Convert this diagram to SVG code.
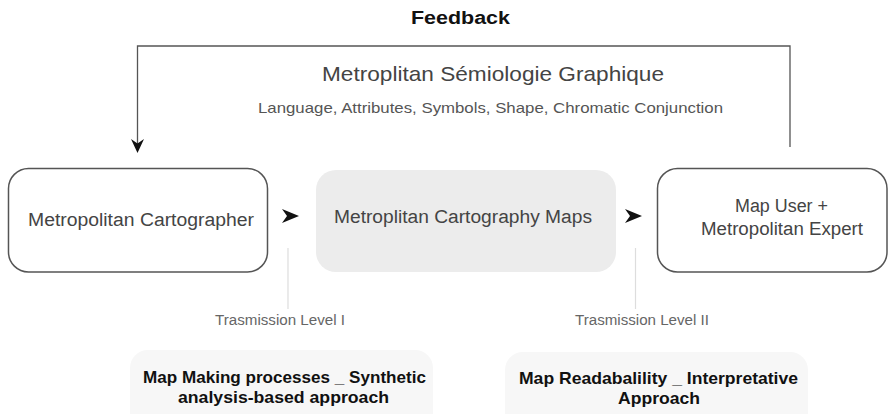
<svg xmlns="http://www.w3.org/2000/svg" width="889" height="414" viewBox="0 0 889 414">
<defs>
<style>
text{font-family:"Liberation Sans","DejaVu Sans",sans-serif;text-anchor:middle}
.box{fill:#fff;stroke:#555;stroke-width:1.5}
.mid{fill:#ececec;stroke:none}
.soft{fill:#f7f7f7;stroke:none}
.lbl{font-size:18px;fill:#444}
.tl{font-size:14px;fill:#666}
.bold{font-size:17px;font-weight:bold;fill:#111}
.fb{fill:none;stroke:#555;stroke-width:1.3}
.tick{stroke:#ddd;stroke-width:1.2}
.chev{fill:#111}
</style>
</defs>
<g id="connectors">
<polyline class="fb" points="790,147 790,46 137.5,46 137.5,148"/>
<path class="chev" d="M131,139 L137.5,153 L144,139 L137.5,143.5 Z"/>
<path class="chev" d="M282,209 L299,216 L282,223 L287,216 Z"/>
<path class="chev" d="M625,209 L642,216 L625,223 L630,216 Z"/>
<line class="tick" x1="288" y1="248" x2="288" y2="309"/>
<line class="tick" x1="635.5" y1="248" x2="635.5" y2="309"/>
</g>
<g id="feedback">
<text x="460.5" y="24" textLength="99" lengthAdjust="spacingAndGlyphs" style="font-size:18px;font-weight:bold;fill:#111">Feedback</text>
</g>
<g id="header">
<text x="493" y="81" textLength="342" lengthAdjust="spacingAndGlyphs" style="font-size:21px;fill:#444">Metroplitan Sémiologie Graphique</text>
<text x="490.5" y="113" textLength="465" lengthAdjust="spacingAndGlyphs" style="font-size:15px;fill:#555">Language, Attributes, Symbols, Shape, Chromatic Conjunction</text>
</g>
<g id="n1">
<rect class="box" x="8.5" y="168.5" width="259" height="103.5" rx="20"/>
<text class="lbl" x="141" y="226" textLength="226" lengthAdjust="spacingAndGlyphs">Metropolitan Cartographer</text>
</g>
<g id="n2">
<rect class="mid" x="316" y="170" width="300" height="102" rx="20"/>
<text class="lbl" x="463" y="223" textLength="258" lengthAdjust="spacingAndGlyphs">Metroplitan Cartography Maps</text>
</g>
<g id="n3">
<rect class="box" x="657.5" y="168.5" width="229.5" height="103.5" rx="20"/>
<text class="lbl" x="781.5" y="212" textLength="93" lengthAdjust="spacingAndGlyphs">Map User +</text>
<text class="lbl" x="782" y="235" textLength="162" lengthAdjust="spacingAndGlyphs">Metropolitan Expert</text>
</g>
<g id="t1"><text class="tl" x="280" y="325" textLength="130" lengthAdjust="spacingAndGlyphs">Trasmission Level I</text></g>
<g id="t2"><text class="tl" x="642" y="325" textLength="134" lengthAdjust="spacingAndGlyphs">Trasmission Level II</text></g>
<g id="b1">
<rect class="soft" x="130" y="350" width="303" height="80" rx="18"/>
<text class="bold" x="284.5" y="383" textLength="283" lengthAdjust="spacingAndGlyphs">Map Making processes _ Synthetic</text>
<text class="bold" x="283.5" y="403" textLength="211" lengthAdjust="spacingAndGlyphs">analysis-based approach</text>
</g>
<g id="b2">
<rect class="soft" x="505" y="352" width="303" height="80" rx="18"/>
<text class="bold" x="658.5" y="384" textLength="279" lengthAdjust="spacingAndGlyphs">Map Readabalility _ Interpretative</text>
<text class="bold" x="659" y="404" textLength="82" lengthAdjust="spacingAndGlyphs">Approach</text>
</g>
</svg>
